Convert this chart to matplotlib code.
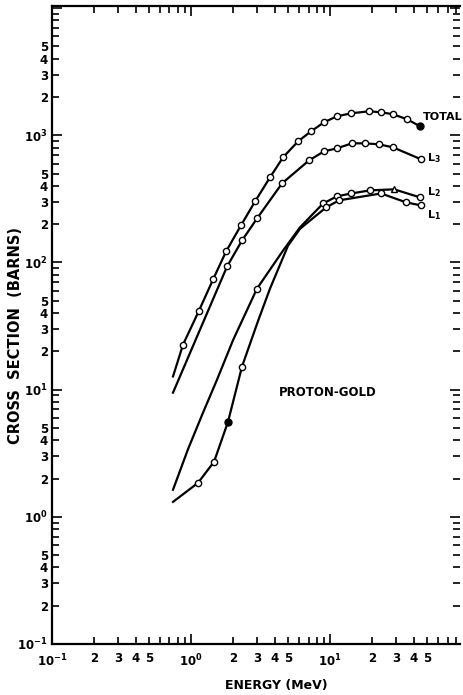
import numpy as np
import matplotlib
matplotlib.use('Agg')
import matplotlib.pyplot as plt
from matplotlib.ticker import LogLocator, FuncFormatter

# energies (MeV) and cross sections (barns)
total_e = [0.742, 0.876, 1.142, 1.440, 1.786, 2.289, 2.887, 3.70, 4.59, 5.89,
           7.30, 9.05, 11.2, 14.2, 19.1, 23.3, 28.4, 35.8, 44.4]
total_s = [12.7, 22.6, 41.9, 73.5, 122, 196, 302, 467, 671, 897,
           1075, 1266, 1411, 1490, 1545, 1517, 1464, 1337, 1177]
total_m = [0, 1, 1, 1, 1, 1, 1, 1, 1, 1, 1, 1, 1, 1, 1, 1, 1, 1, 2]

l3_e = [0.742, 1.816, 2.327, 2.984, 4.515, 7.06, 9.05, 11.2, 14.4, 17.9, 22.5, 28.4, 45.2]
l3_s = [9.47, 93.0, 149, 222, 419, 635, 748, 790, 865, 865, 849, 804, 647]
l3_m = [0, 1, 1, 1, 1, 1, 1, 1, 1, 1, 1, 1, 1]

l2_e = [0.742, 0.951, 1.220, 1.539, 2.005, 2.984, 4.59, 6.08, 8.91, 11.2, 14.2, 19.4, 28.9, 44.4]
l2_s = [1.632, 3.40, 6.60, 12.0, 24.5, 62.4, 124, 189, 291, 331, 349, 369, 376, 325]
l2_m = [0, 0, 0, 0, 0, 1, 0, 0, 1, 1, 1, 1, 3, 1]

l1_e = [0.742, 1.123, 1.464, 1.846, 2.327, 3.04, 3.70, 4.99, 6.08, 9.36, 11.6, 23.3, 35.2, 45.2]
l1_s = [1.31, 1.85, 2.71, 5.60, 15.2, 34.9, 62.4, 136, 184, 271, 308, 349, 297, 281]
l1_m = [0, 1, 1, 2, 1, 0, 0, 0, 0, 1, 1, 1, 1, 1]

fig = plt.figure(figsize=(4.63, 6.95), dpi=100)
ax = fig.add_axes([0.1123, 0.0734, 0.8812, 0.918])

def draw(e, s, m):
    e = np.array(e)
    s = np.array(s)
    m = np.array(m)
    ax.plot(e, s, color='black', lw=1.6, zorder=2, solid_joinstyle='round')
    ax.plot(e[m == 1], s[m == 1], 'o', ms=4.5, mfc='white', mec='black', mew=1.0, zorder=3)
    ax.plot(e[m == 2], s[m == 2], 'o', ms=5, mfc='black', mec='black', zorder=3)
    ax.plot(e[m == 3], s[m == 3], '^', ms=5, mfc='white', mec='black', mew=1.0, zorder=3)

draw(total_e, total_s, total_m)
draw(l3_e, l3_s, l3_m)
draw(l2_e, l2_s, l2_m)
draw(l1_e, l1_s, l1_m)

ax.set_xscale('log')
ax.set_yscale('log')
ax.set_xlim(0.1, 86)
ax.set_ylim(0.1, 1.04e4)

def major_fmt(v, pos):
    p = int(round(np.log10(v)))
    if p >= 4:
        return ''
    return r'$\mathbf{10^{%d}}$' % p

def minor_fmt(v, pos):
    m = int(round(v / 10 ** np.floor(np.log10(v) + 1e-9)))
    return str(m) if m in (2, 3, 4, 5) else ''

for axis in (ax.xaxis, ax.yaxis):
    axis.set_major_locator(LogLocator(base=10, numticks=10))
    axis.set_minor_locator(LogLocator(base=10, subs=range(2, 10), numticks=10))
    axis.set_major_formatter(FuncFormatter(major_fmt))
    axis.set_minor_formatter(FuncFormatter(minor_fmt))

ax.tick_params(which='both', direction='in', top=True, right=True, width=1.2,
               labelsize=8.5)
ax.tick_params(which='major', length=7)
ax.tick_params(which='minor', length=5)
ax.tick_params(axis='y', which='both', pad=3)
ax.tick_params(axis='x', which='both', pad=6)
for lab in ax.get_xticklabels(which='both') + ax.get_yticklabels(which='both'):
    lab.set_fontweight('bold')

for side in ('left', 'bottom', 'top'):
    ax.spines[side].set_linewidth(1.6)
ax.spines['right'].set_visible(False)

tfont = dict(fontsize=8, fontweight='bold', ha='left', va='center')
ax.text(46.5, 1390, 'TOTAL', **tfont)
ax.text(49.9, 659, r'$\mathbf{L_3}$', **tfont)
ax.text(49.9, 356, r'$\mathbf{L_2}$', **tfont)
ax.text(49.9, 234, r'$\mathbf{L_1}$', **tfont)
ax.text(9.68, 9.47, 'PROTON-GOLD', fontsize=8.5, fontweight='bold', ha='center', va='center')

fig.text(16 / 463, 1 - 336 / 695, 'CROSS  SECTION  (BARNS)', rotation=90,
         fontsize=10.5, fontweight='bold', ha='center', va='center')
fig.text(276 / 463, 1 - 686 / 695, 'ENERGY (MeV)', fontsize=9,
         fontweight='bold', ha='center', va='center')

fig.savefig('out.png', dpi=100)
